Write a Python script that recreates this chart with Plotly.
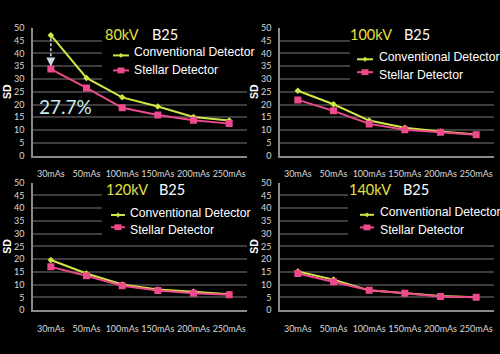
import plotly.graph_objects as go

W, H = 500, 354

categories = ["30mAs", "50mAs", "100mAs", "150mAs", "200mAs", "250mAs"]
y_tick_values = [0, 5, 10, 15, 20, 25, 30, 35, 40, 45, 50]
series_names = ["Conventional Detector", "Stellar Detector"]
panel_titles = ["80kV", "100kV", "120kV", "140kV"]
kernel_label = "B25"
reduction_label = "27.7%"

conv_80 = [47.2, 30.4, 22.8, 19.2, 15.1, 13.7]
stel_80 = [33.9, 26.5, 18.7, 15.9, 13.8, 12.5]
conv_100 = [25.4, 20.1, 13.7, 10.9, 9.4, 8.2]
stel_100 = [21.8, 17.5, 12.4, 10.1, 9.1, 8.1]
conv_120 = [19.7, 14.4, 10.1, 8.1, 7.2, 6.3]
stel_120 = [17.0, 13.5, 9.6, 7.7, 6.7, 6.1]
conv_140 = [15.2, 12.0, 7.8, 6.8, 5.6, 5.1]
stel_140 = [14.4, 11.2, 7.8, 6.7, 5.4, 5.1]

conv_series = [conv_80, conv_100, conv_120, conv_140]
stel_series = [stel_80, stel_100, stel_120, stel_140]

CONV_COLOR = "#cfe645"
STEL_COLOR = "#ec4a8c"
TITLE_YELLOW = "#e6e040"
GRID = "#3c3c3c"
AXIS = "#8a8a8a"
TICK_FONT = dict(family="Lato, Open Sans, sans-serif", size=9, color="#d8d8d8")
LEGEND_FONT = dict(family="Liberation Sans Narrow, Arial Narrow, Liberation Sans, sans-serif",
                   size=12.2, color="#ffffff")
TITLE_FONT = dict(family="Lato, sans-serif", size=14.5, color="#ffffff")


def px_x(p):
    return p / W


def px_y(p):
    return 1 - p / H


# panel plot-area boxes in pixels: (left, right, top, bottom)
boxes = [
    (33, 247, 22.7, 154.3),
    (280, 494, 22.7, 154.3),
    (33, 247, 182.3, 314),
    (280, 494, 182.3, 314),
]
# legend layout per panel (pixels): line x0, line x1, text x, conv text y, stel text y,
# conv symbol y, stel symbol y
legend_geo = [
    (113, 129, 132, 47.5, 65.8, 51, 66.5),
    (357, 373, 377, 53, 71, 55, 68.3),
    (111, 125, 128.3, 213.3, 231.3, 215.7, 228.3),
    (360, 374, 378, 213, 231.3, 215.5, 228.5),
]
# black box hiding gridlines behind title/legend (pixels): x0, y0(top), y1(bottom)
cover_geo = [(102, 30, 80), (350, 30, 82), (102, 190, 240), (348, 190, 240)]
# title positions (pixels): kV x, kernel x, y
title_geo = [(103, 150, 29.5), (347.5, 401.5, 29), (104, 156.7, 189.7), (346.7, 401, 189.7)]

n_cat = len(categories)

fig = go.Figure()
annotations = []
shapes = []
layout = dict(
    width=W, height=H,
    margin=dict(l=0, r=0, t=0, b=0),
    paper_bgcolor="#000000",
    plot_bgcolor="#000000",
    showlegend=False,
)

for i in range(4):
    n = "" if i == 0 else str(i + 1)
    xa, ya = "x" + n, "y" + n
    fig.add_trace(go.Scatter(
        x=categories, y=conv_series[i], name=series_names[0],
        mode="lines+markers", xaxis=xa, yaxis=ya,
        line=dict(color=CONV_COLOR, width=2),
        marker=dict(symbol="diamond", size=5, color=CONV_COLOR),
    ))
    fig.add_trace(go.Scatter(
        x=categories, y=stel_series[i], name=series_names[1],
        mode="lines+markers", xaxis=xa, yaxis=ya,
        line=dict(color=STEL_COLOR, width=2),
        marker=dict(symbol="square", size=7, color=STEL_COLOR),
    ))
    l, r, t, b = boxes[i]
    layout["xaxis" + n] = dict(
        domain=[px_x(l), px_x(r)], anchor=ya,
        type="category", categoryorder="array", categoryarray=categories,
        showgrid=False, zeroline=False,
        showline=True, linecolor=AXIS, linewidth=1.5,
        ticks="", tickangle=0, tickfont=TICK_FONT, ticklabelstandoff=9,
        range=[-0.5, n_cat - 0.5],
    )
    layout["yaxis" + n] = dict(
        domain=[px_y(b), px_y(t)], anchor=xa,
        range=[0, 50], tickvals=y_tick_values,
        showgrid=True, gridcolor=GRID, gridwidth=1.5,
        zeroline=False, showline=True, linecolor=AXIS, linewidth=1.5,
        ticks="", tickfont=TICK_FONT, ticklabelstandoff=5,
        title=dict(text="<b>SD</b>", font=dict(family="Liberation Sans, Arial, sans-serif",
                                               size=10.5, color="#ffffff"), standoff=0),
    )

    # black cover behind title + legend (between gridlines and traces), in axis units
    cx0, cy0, cy1 = cover_geo[i]
    shapes.append(dict(
        type="rect", xref=xa, yref=ya, layer="between",
        x0=-0.5 + (cx0 - l) / (r - l) * n_cat, x1=n_cat - 0.5,
        y0=(b - cy1) / (b - t) * 50, y1=(b - cy0) / (b - t) * 50,
        fillcolor="#000000", line=dict(width=0),
    ))

    # titles
    kx, bx, ty = title_geo[i]
    annotations.append(dict(
        xref="paper", yref="paper", x=px_x(kx), y=px_y(ty),
        xanchor="left", yanchor="middle", showarrow=False,
        text=panel_titles[i], font=dict(TITLE_FONT, color=TITLE_YELLOW),
    ))
    annotations.append(dict(
        xref="paper", yref="paper", x=px_x(bx), y=px_y(ty),
        xanchor="left", yanchor="middle", showarrow=False,
        text=kernel_label, font=TITLE_FONT,
    ))

    # manual legend
    lx0, lx1, tx, cty, sty, csy, ssy = legend_geo[i]
    for name, color, text_y, sym_y, kind in [
        (series_names[0], CONV_COLOR, cty, csy, "diamond"),
        (series_names[1], STEL_COLOR, sty, ssy, "square"),
    ]:
        annotations.append(dict(
            xref="paper", yref="paper", x=px_x(tx), y=px_y(text_y),
            xanchor="left", yanchor="middle", showarrow=False,
            text=name, font=LEGEND_FONT,
        ))
        shapes.append(dict(
            type="line", xref="paper", yref="paper", layer="above",
            x0=px_x(lx0), x1=px_x(lx1), y0=px_y(sym_y), y1=px_y(sym_y),
            line=dict(color=color, width=2),
        ))
        mx = (lx0 + lx1) / 2
        if kind == "square":
            shapes.append(dict(
                type="rect", xref="paper", yref="paper", layer="above",
                x0=px_x(mx - 3.5), x1=px_x(mx + 3.5),
                y0=px_y(sym_y + 3), y1=px_y(sym_y - 3),
                fillcolor=color, line=dict(width=0),
            ))
        else:
            shapes.append(dict(
                type="path", xref="paper", yref="paper", layer="above",
                path=(f"M {px_x(mx - 2.5)} {px_y(sym_y)} L {px_x(mx)} {px_y(sym_y - 2.5)} "
                      f"L {px_x(mx + 2.5)} {px_y(sym_y)} L {px_x(mx)} {px_y(sym_y + 2.5)} Z"),
                fillcolor=color, line=dict(width=0),
            ))

# reduction annotation on first panel
annotations.append(dict(
    xref="paper", yref="paper", x=px_x(36.5), y=px_y(104),
    xanchor="left", yanchor="middle", showarrow=False,
    text=reduction_label,
    font=dict(family="Lato, sans-serif", size=19, color="#c8eef0"),
))
shapes.append(dict(
    type="line", xref="x", yref="y", layer="above",
    x0=categories[0], x1=categories[0],
    y0=conv_80[0] - 1.2, y1=stel_80[0] + 2.0,
    line=dict(color="#c8dce0", width=1.5, dash="3px,2px"),
))
annotations.append(dict(
    xref="x", yref="y", x=categories[0], y=stel_80[0] + 1.0,
    ax=0, ay=-7, showarrow=True, arrowhead=2, arrowsize=1.2,
    arrowwidth=1.5, arrowcolor="#c8dce0", text="",
))

layout["annotations"] = annotations
layout["shapes"] = shapes
fig.update_layout(**layout)
fig.write_html("out.html")
